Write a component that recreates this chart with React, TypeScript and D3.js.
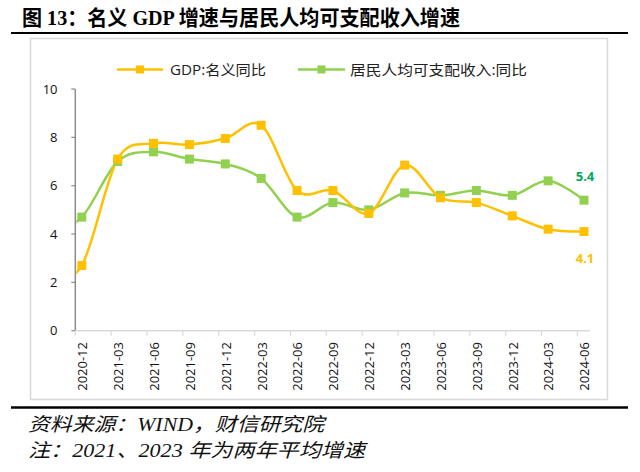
import React from "react";
import * as d3 from "d3";

const categories = [
  "2020-12", "2021-03", "2021-06", "2021-09", "2021-12", "2022-03", "2022-06", "2022-09",
  "2022-12", "2023-03", "2023-06", "2023-09", "2023-12", "2024-03", "2024-06",
];
// nominal GDP growth (%)
const gdpValues = [2.7, 7.1, 7.75, 7.7, 7.95, 8.5, 5.8, 5.8, 4.85, 6.85, 5.5, 5.3, 4.75, 4.2, 4.1];
// per-capita disposable income growth (%)
const incomeValues = [4.7, 7.0, 7.4, 7.1, 6.9, 6.3, 4.7, 5.3, 5.0, 5.7, 5.6, 5.8, 5.6, 6.2, 5.4];
// preceding quarter (2020-09), only visible as the clipped line entering the plot
const gdpPrev = 1.9;
const incomePrev = 3.9;
const yTicks = [0, 2, 4, 6, 8, 10];

const GDP_COLOR = "#FFC000";
const INC_COLOR = "#92D050";
const SANS = "'Open Sans', 'Noto Sans CJK SC', sans-serif";
const CJK = "'Noto Sans CJK SC', sans-serif";

export default function App() {
  const x = d3.scaleLinear().domain([0, categories.length - 1]).range([81.8, 584]);
  const y = d3.scaleLinear().domain([0, 10]).range([330.7, 89]);
  const step = x(1) - x(0);
  const axisX0 = 75.3;
  const axisX1 = 590;
  const y0 = y(0);

  const line = d3
    .line<[number, number]>()
    .x((d) => x(d[0]))
    .y((d) => y(d[1]))
    .curve(d3.curveCardinal.tension(0));

  const gdpPts: [number, number][] = [[-1, gdpPrev], ...gdpValues.map((v, i) => [i, v] as [number, number])];
  const incPts: [number, number][] = [[-1, incomePrev], ...incomeValues.map((v, i) => [i, v] as [number, number])];

  const ms = 9;
  const last = categories.length - 1;

  return (
    <div style={{ position: "fixed", left: 0, top: 0 }}>
      <svg width={640} height={472} style={{ display: "block", background: "#fff" }}>
        <defs>
          <clipPath id="plotClip">
            <rect x={axisX0 + 1} y={60} width={axisX1 - axisX0} height={y0 - 50} />
          </clipPath>
        </defs>
        {/* title */}
        <text
          x={22}
          y={25}
          fontSize={21}
          fontWeight="bold"
          fontFamily="'Liberation Serif', 'Noto Sans CJK SC', serif"
          textLength={438}
          lengthAdjust="spacingAndGlyphs"
          fill="#000"
        >
          图 13：名义 GDP 增速与居民人均可支配收入增速
        </text>
        <line x1={11} x2={628} y1={33} y2={33} stroke="#000" strokeWidth={2.2} />
        {/* frame */}
        <rect x={30.5} y={38.5} width={577} height={361} fill="none" stroke="#D9D9D9" strokeWidth={1.5} />

        {/* legend */}
        <g>
          <line x1={117} x2={163} y1={69.5} y2={69.5} stroke={GDP_COLOR} strokeWidth={2.5} />
          <rect x={140 - 4} y={69.5 - 4} width={8} height={8} fill={GDP_COLOR} />
          <text x={170} y={75} fontSize={14} fontFamily={SANS} fill="#222" textLength={96} lengthAdjust="spacingAndGlyphs">
            GDP:名义同比
          </text>
          <line x1={298} x2={345} y1={69.5} y2={69.5} stroke={INC_COLOR} strokeWidth={2.5} />
          <rect x={321.5 - 4} y={69.5 - 4} width={8} height={8} fill={INC_COLOR} />
          <text x={350} y={75} fontSize={14} fontFamily={SANS} fill="#222" textLength={177} lengthAdjust="spacingAndGlyphs">
            居民人均可支配收入:同比
          </text>
        </g>

        {/* y axis */}
        <line x1={axisX0} x2={axisX0} y1={y(10)} y2={y0} stroke="#8C8C8C" strokeWidth={1.5} />
        {yTicks.map((t) => (
          <g key={t}>
            <line x1={axisX0 - 4} x2={axisX0} y1={y(t)} y2={y(t)} stroke="#8C8C8C" strokeWidth={1.2} />
            <text x={57.5} y={y(t)} dy="0.35em" textAnchor="end" fontSize={13} fontFamily={SANS} fill="#111">
              {t}
            </text>
          </g>
        ))}

        {/* x axis */}
        <line x1={axisX0} x2={axisX1} y1={y0} y2={y0} stroke="#D9D9D9" strokeWidth={1.5} />
        {categories.map((c, i) => (
          <g key={c}>
            <line x1={x(i) - 6.6} x2={x(i) - 6.6} y1={y0} y2={y0 + 5} stroke="#D9D9D9" strokeWidth={1.2} />
            <text
              transform={`translate(${x(i) + 0.8},${342}) rotate(-90)`}
              dy="0.35em"
              textAnchor="end"
              fontSize={13}
              fontFamily={SANS}
              fill="#111"
            >
              {c}
            </text>
          </g>
        ))}

        {/* lines */}
        <g clipPath="url(#plotClip)">
          <path d={line(incPts) || ""} fill="none" stroke={INC_COLOR} strokeWidth={2.5} />
          <path d={line(gdpPts) || ""} fill="none" stroke={GDP_COLOR} strokeWidth={2.5} />
        </g>
        {incomeValues.map((v, i) => (
          <rect key={"i" + i} x={x(i) - ms / 2} y={y(v) - ms / 2} width={ms} height={ms} fill={INC_COLOR} />
        ))}
        {gdpValues.map((v, i) => (
          <rect key={"g" + i} x={x(i) - ms / 2} y={y(v) - ms / 2} width={ms} height={ms} fill={GDP_COLOR} />
        ))}

        {/* data labels */}
        <text x={x(last) + 1} y={y(incomeValues[last]) - 24} dy="0.35em" textAnchor="middle" fontSize={13} fontWeight="bold" fontFamily={SANS} fill="#00A85A">
          {incomeValues[last].toFixed(1)}
        </text>
        <text x={x(last) + 1} y={y(gdpValues[last]) + 27} dy="0.35em" textAnchor="middle" fontSize={13} fontWeight="bold" fontFamily={SANS} fill={GDP_COLOR}>
          {gdpValues[last].toFixed(1)}
        </text>

        <line x1={11} x2={628} y1={407.5} y2={407.5} stroke="#000" strokeWidth={2.5} />
        {/* footer */}
        <text
          x={28}
          y={431}
          fontSize={19}
          fontStyle="italic"
          fontFamily="'Liberation Serif', 'Noto Sans CJK SC', serif"
          textLength={296}
          lengthAdjust="spacingAndGlyphs"
          fill="#111"
        >
          资料来源：WIND，财信研究院
        </text>
        <text
          x={28}
          y={457}
          fontSize={19}
          fontStyle="italic"
          fontFamily="'Liberation Serif', 'Noto Sans CJK SC', serif"
          textLength={337}
          lengthAdjust="spacingAndGlyphs"
          fill="#111"
        >
          注：2021、2023 年为两年平均增速
        </text>
      </svg>
    </div>
  );
}
